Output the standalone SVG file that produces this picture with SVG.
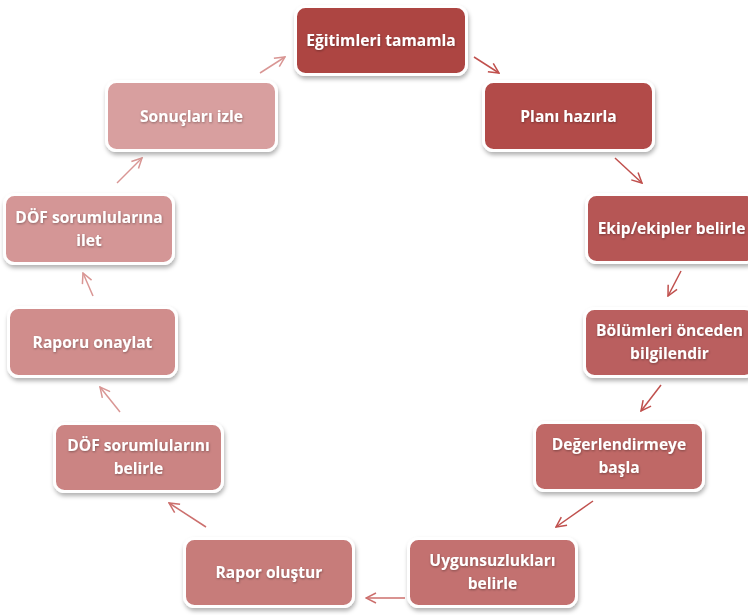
<svg xmlns="http://www.w3.org/2000/svg" width="748" height="615" viewBox="0 0 748 615">
<defs>
<filter id="sh" x="-10%" y="-10%" width="125%" height="135%">
<feDropShadow dx="1" dy="3" stdDeviation="2" flood-color="#000" flood-opacity="0.3"/>
</filter>
<filter id="ts" x="-5%" y="-20%" width="110%" height="150%">
<feDropShadow dx="0.5" dy="1" stdDeviation="0.8" flood-color="#000" flood-opacity="0.35"/>
</filter>
<marker id="ma" viewBox="0 0 12 12" refX="11" refY="6" markerWidth="12" markerHeight="12" markerUnits="userSpaceOnUse" orient="auto">
<path d="M1,1 L11,6 L1,11" fill="none" stroke="#C0504D" stroke-width="1.5"/>
</marker>
<marker id="mb" viewBox="0 0 12 12" refX="11" refY="6" markerWidth="12" markerHeight="12" markerUnits="userSpaceOnUse" orient="auto">
<path d="M1,1 L11,6 L1,11" fill="none" stroke="#CC6F6D" stroke-width="1.5"/>
</marker>
<marker id="mc" viewBox="0 0 12 12" refX="11" refY="6" markerWidth="12" markerHeight="12" markerUnits="userSpaceOnUse" orient="auto">
<path d="M1,1 L11,6 L1,11" fill="none" stroke="#D99694" stroke-width="1.5"/>
</marker>
</defs>
<style>
.box{stroke:#fff;stroke-width:3;filter:url(#sh)}
.t{font-family:"Open Sans","Liberation Sans",sans-serif;font-weight:bold;font-size:15.6px;fill:#fff;text-anchor:middle;filter:url(#ts)}
.ca{fill:none;stroke:#C0504D;stroke-width:1.5;marker-end:url(#ma)}
.cb{fill:none;stroke:#CC6F6D;stroke-width:1.5;marker-end:url(#mb)}
.cc{fill:none;stroke:#D99694;stroke-width:1.5;marker-end:url(#mc)}
</style>
<rect width="748" height="615" fill="#fff"/>
<g id="connectors">
<line class="ca" x1="474" y1="57" x2="499" y2="73"/>
<line class="ca" x1="615" y1="158" x2="642" y2="183"/>
<line class="ca" x1="681" y1="271" x2="668" y2="296"/>
<line class="ca" x1="661" y1="385" x2="641" y2="411"/>
<line class="ca" x1="593" y1="501" x2="556" y2="527"/>
<line class="cb" x1="405" y1="598" x2="366" y2="598"/>
<line class="cb" x1="206" y1="527" x2="169" y2="503"/>
<line class="cc" x1="120" y1="412" x2="100" y2="387"/>
<line class="cc" x1="93" y1="296" x2="83" y2="273"/>
<line class="cc" x1="117" y1="183" x2="142" y2="158"/>
<line class="cc" x1="260" y1="73" x2="285" y2="57"/>
</g>
<g id="n1"><rect class="box" x="295.5" y="6.5" width="171" height="68" rx="10" fill="#AD4543"/><text class="t" x="381" y="46">Eğitimleri tamamla</text></g>
<g id="n2"><rect class="box" x="483.5" y="81.5" width="170" height="69" rx="10" fill="#B24C4A"/><text class="t" x="568.5" y="121.5">Planı hazırla</text></g>
<g id="n3"><rect class="box" x="586.5" y="194.5" width="170" height="68" rx="10" fill="#B65655"/><text class="t" x="671.5" y="234">Ekip/ekipler belirle</text></g>
<g id="n4"><rect class="box" x="584.5" y="308.5" width="170" height="68" rx="10" fill="#BA5F5E"/><text class="t" x="669.5" y="336">Bölümleri önceden</text><text class="t" x="669.5" y="359">bilgilendir</text></g>
<g id="n5"><rect class="box" x="534.5" y="422.5" width="169" height="68" rx="10" fill="#BF6866"/><text class="t" x="619" y="450">Değerlendirmeye</text><text class="t" x="619" y="473">başla</text></g>
<g id="n6"><rect class="box" x="408.5" y="538.5" width="168" height="68" rx="10" fill="#C37170"/><text class="t" x="492.5" y="566">Uygunsuzlukları</text><text class="t" x="492.5" y="589">belirle</text></g>
<g id="n7"><rect class="box" x="184.5" y="538.5" width="169" height="68" rx="10" fill="#C77B7A"/><text class="t" x="269" y="578">Rapor oluştur</text></g>
<g id="n8"><rect class="box" x="54.5" y="423.5" width="168" height="68" rx="10" fill="#CB8483"/><text class="t" x="138.5" y="451">DÖF sorumlularını</text><text class="t" x="138.5" y="474">belirle</text></g>
<g id="n9"><rect class="box" x="8.5" y="307.5" width="168" height="69" rx="10" fill="#D08D8C"/><text class="t" x="92.5" y="347.5">Raporu onaylat</text></g>
<g id="n10"><rect class="box" x="4.5" y="194.5" width="169" height="69" rx="10" fill="#D49696"/><text class="t" x="89" y="222.5">DÖF sorumlularına</text><text class="t" x="89" y="245.5">ilet</text></g>
<g id="n11"><rect class="box" x="106.5" y="81.5" width="170" height="69" rx="10" fill="#D89F9F"/><text class="t" x="191.5" y="121.5">Sonuçları izle</text></g>
</svg>
